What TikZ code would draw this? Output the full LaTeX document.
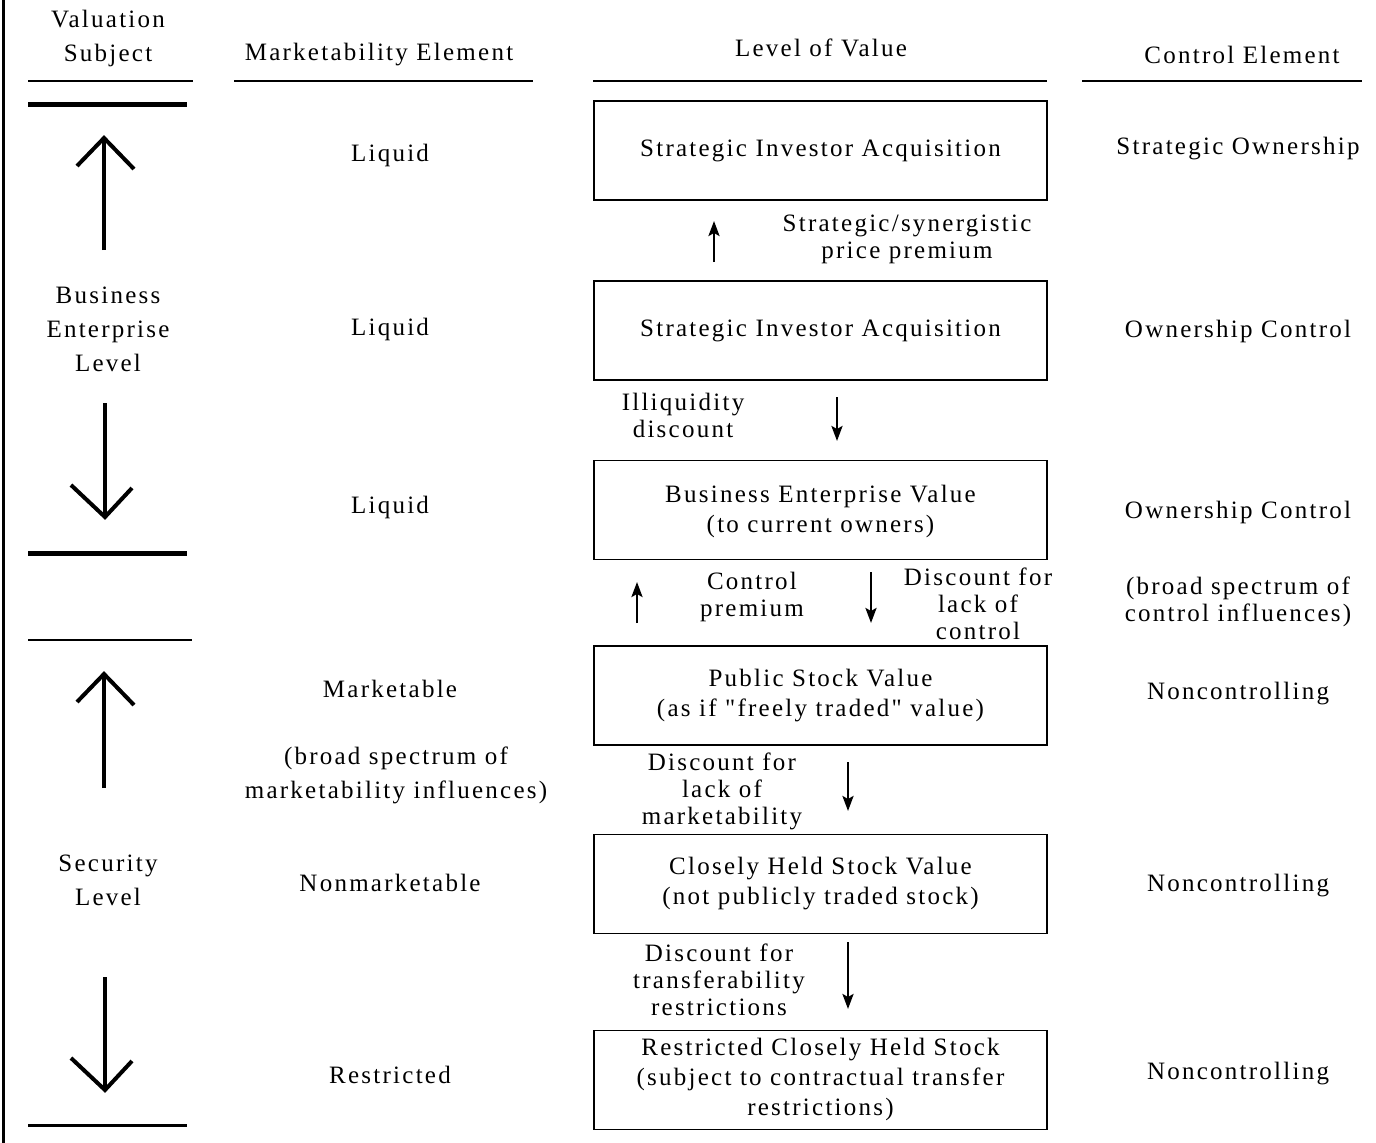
\documentclass[tikz,border=0pt]{standalone}
\usepackage{fontspec}
\setmainfont{Liberation Serif}[LetterSpace=9, Ligatures=TeXOff]
\usetikzlibrary{arrows.meta}
\tikzset{
  txt/.style={font=\fontsize{25}{27}\selectfont, inner sep=0pt, align=center},
  wide/.style={font=\fontsize{25}{34}\selectfont, inner sep=0pt, align=center},
  boxtxt/.style={font=\fontsize{25}{30}\selectfont, inner sep=0pt, align=center},
  valbox/.style={draw, line width=1.5pt, minimum width=453pt, minimum height=99pt, inner sep=0pt},
  rule/.style={line width=2pt},
  thickrule/.style={line width=5pt},
  bigarrow/.style={line width=4pt, line cap=butt, line join=miter},
  smallarrow/.style={line width=2.5pt, -{Stealth[length=15pt,width=11pt,inset=3pt]}},
}
\begin{document}
\begin{tikzpicture}[x=1pt,y=-1pt]
\useasboundingbox (0,0) rectangle (1376,1143);
% left border
\draw[line width=3pt] (3,0) -- (3,1143);

% headers
\node[wide] (hv) at (108,38) {Valuation\\Subject};
\node[txt] (hm) at (379,55) {Marketability Element};
\node[txt] (hl) at (821,48) {Level of Value};
\node[txt] (hc) at (1242,55) {Control Element};
\draw[rule] (28,81) -- (193,81);
\draw[rule] (234,81) -- (533,81);
\draw[rule] (593,81) -- (1047,81);
\draw[rule] (1082,81) -- (1362,81);

% valuation subject column
\draw[thickrule] (28,104) -- (187,104);
\draw[bigarrow] (104,250) -- (104,138);
\draw[bigarrow] (77,166) -- (104,138) -- (134,169);
\node[wide] (bel) at (108,329) {Business\\Enterprise\\Level};
\draw[bigarrow] (105,403) -- (105,517);
\draw[bigarrow] (71,485) -- (105,517) -- (132,488);
\draw[thickrule] (28,553) -- (187,553);
\draw[rule] (28,640) -- (192,640);
\draw[bigarrow] (104,788) -- (104,674);
\draw[bigarrow] (77,702) -- (104,674) -- (134,705);
\node[wide] (sl) at (108,880) {Security\\Level};
\draw[bigarrow] (105,977) -- (105,1090);
\draw[bigarrow] (71,1058) -- (105,1090) -- (132,1061);
\draw[line width=3pt] (28,1125) -- (187,1125);

% marketability column
\node[txt] (m1) at (390,155) {Liquid};
\node[txt] (m2) at (390,329) {Liquid};
\node[txt] (m3) at (390,507) {Liquid};
\node[txt] (m4) at (390,689) {Marketable};
\node[wide] (m5) at (396,775) {(broad spectrum of\\marketability influences)};
\node[txt] (m6) at (390,883) {Nonmarketable};
\node[txt] (m7) at (390,1075) {Restricted};

% level of value boxes
\node[valbox] (b1) at (820.5,150.5) {};
\node[boxtxt] at (b1) {Strategic Investor Acquisition};
\node[valbox] (b2) at (820.5,330.5) {};
\node[boxtxt] at (b2) {Strategic Investor Acquisition};
\node[valbox] (b3) at (820.5,510) {};
\node[boxtxt] at (820.5,511) {Business Enterprise Value\\(to current owners)};
\node[valbox] (b4) at (820.5,695.5) {};
\node[boxtxt] at (820.5,696) {Public Stock Value\\(as if "freely traded" value)};
\node[valbox] (b5) at (820.5,884) {};
\node[boxtxt] at (820.5,884) {Closely Held Stock Value\\(not publicly traded stock)};
\node[valbox] (b6) at (820.5,1080) {};
\node[boxtxt] at (820.5,1079) {Restricted Closely Held Stock\\(subject to contractual transfer\\restrictions)};

% labels between boxes
\node[txt] (l1) at (907,239) {Strategic/synergistic\\price premium};
\coordinate (a1s) at (714,262); \coordinate (a1e) at (714,221);
\draw[smallarrow] (a1s) -- (a1e);

\node[txt] (l2) at (683,415) {Illiquidity\\discount};
\coordinate (a2s) at (837,397); \coordinate (a2e) at (837,441);
\draw[smallarrow] (a2s) -- (a2e);

\node[txt] (l3) at (752,597) {Control\\premium};
\coordinate (a3s) at (637,623); \coordinate (a3e) at (637,582);
\draw[smallarrow] (a3s) -- (a3e);
\node[txt] (l4) at (978,604) {Discount for\\lack of\\control};
\coordinate (a4s) at (871,572); \coordinate (a4e) at (871,623);
\draw[smallarrow] (a4s) -- (a4e);

\node[txt] (l5) at (722,791) {Discount for\\lack of\\marketability};
\coordinate (a5s) at (848,762); \coordinate (a5e) at (848,811);
\draw[smallarrow] (a5s) -- (a5e);

\node[txt] (l6) at (719,980) {Discount for\\transferability\\restrictions};
\coordinate (a6s) at (848,942); \coordinate (a6e) at (848,1009);
\draw[smallarrow] (a6s) -- (a6e);

% control column
\node[txt] (c1) at (1238,149) {Strategic Ownership};
\node[txt] (c2) at (1238,331) {Ownership Control};
\node[txt] (c3) at (1238,512) {Ownership Control};
\node[txt] (c4) at (1238,602) {(broad spectrum of\\control influences)};
\node[txt] (c5) at (1238,694) {Noncontrolling};
\node[txt] (c6) at (1238,886) {Noncontrolling};
\node[txt] (c7) at (1238,1074) {Noncontrolling};
\end{tikzpicture}
\end{document}
